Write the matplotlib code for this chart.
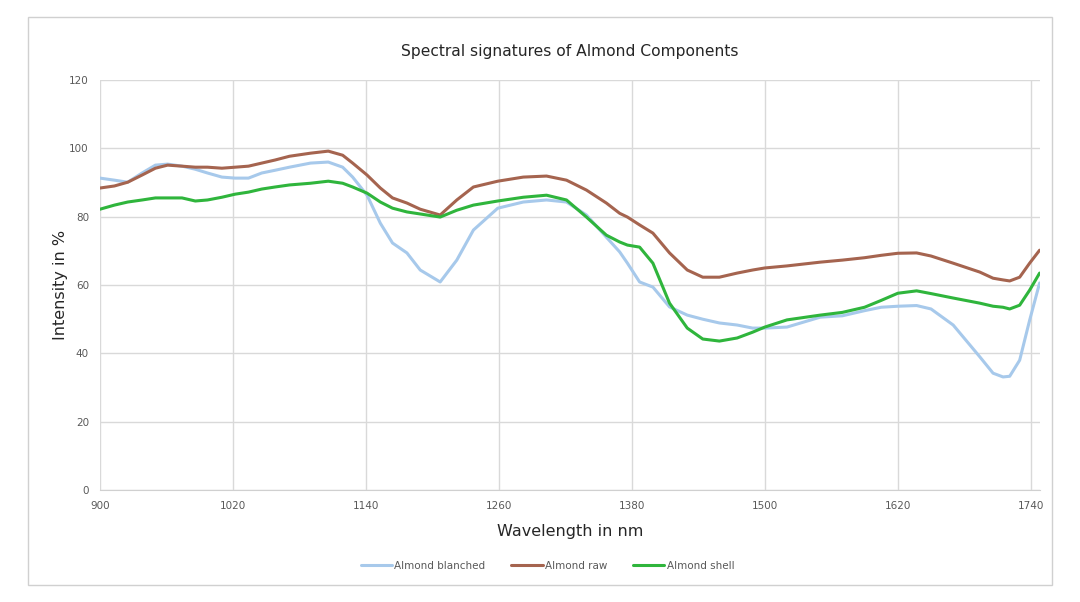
import matplotlib
matplotlib.use("Agg")
import matplotlib.pyplot as plt
from matplotlib.patches import Rectangle

# wavelengths (nm)
wavelength = [900, 913, 925, 938, 950, 961, 974, 986, 997, 1010, 1022, 1034, 1046, 1058,
              1071, 1090, 1106, 1119, 1128, 1141, 1153, 1164, 1177, 1189, 1207, 1222, 1237,
              1259, 1282, 1303, 1321, 1339, 1357, 1369, 1376, 1387, 1399, 1414, 1430, 1444,
              1459, 1475, 1489, 1500, 1520, 1550, 1570, 1590, 1605, 1620, 1637, 1650, 1670,
              1694, 1706, 1715, 1721, 1730, 1739, 1748]

blanched = [91.3, 90.7, 90.1, 92.8, 95.1, 95.4, 94.8, 93.9, 92.8, 91.6, 91.3, 91.3, 92.8, 93.6,
            94.5, 95.7, 96.0, 94.5, 91.6, 86.3, 78.1, 72.3, 69.4, 64.4, 60.9, 67.3, 76.1,
            82.5, 84.3, 84.9, 84.3, 80.5, 74.0, 69.7, 66.4, 60.9, 59.4, 53.6, 51.2, 50.0,
            48.9, 48.3, 47.4, 47.4, 47.7, 50.6, 51.0, 52.5, 53.5, 53.8, 54.0, 53.0, 48.3,
            39.0, 34.2, 33.1, 33.3, 38.0, 49.7, 60.6]

raw = [88.4, 89.0, 90.1, 92.2, 94.2, 95.1, 94.8, 94.5, 94.5, 94.2, 94.5, 94.8, 95.7, 96.6,
       97.7, 98.6, 99.2, 98.0, 95.7, 92.2, 88.4, 85.5, 84.0, 82.2, 80.5, 84.9, 88.7,
       90.4, 91.6, 91.9, 90.7, 87.8, 84.0, 81.0, 79.9, 77.6, 75.2, 69.4, 64.4, 62.3,
       62.3, 63.5, 64.4, 65.0, 65.6, 66.7, 67.3, 68.0, 68.7, 69.3, 69.4, 68.5, 66.4,
       63.8, 62.0, 61.5, 61.2, 62.3, 66.4, 70.2]

shell = [82.2, 83.4, 84.3, 84.9, 85.5, 85.5, 85.5, 84.6, 84.9, 85.7, 86.6, 87.2, 88.1, 88.7,
         89.3, 89.8, 90.4, 89.8, 88.7, 86.9, 84.3, 82.5, 81.4, 80.8, 79.9, 81.9, 83.4,
         84.6, 85.7, 86.3, 84.9, 79.9, 74.6, 72.6, 71.7, 71.1, 66.4, 54.7, 47.4, 44.2,
         43.6, 44.5, 46.2, 47.7, 49.8, 51.2, 52.0, 53.5, 55.5, 57.6, 58.3, 57.5, 56.2,
         54.7, 53.8, 53.5, 53.0, 54.1, 58.5, 63.5]

x_ticks = [900, 1020, 1140, 1260, 1380, 1500, 1620, 1740]
y_ticks = [0, 20, 40, 60, 80, 100, 120]

fig = plt.figure(figsize=(10.8, 6.02), dpi=100)
ax = fig.add_axes([0.0926, 0.186, 0.870, 0.681])

# outer chart border
fig.patches.append(Rectangle((0.026, 0.028), 0.948, 0.944, transform=fig.transFigure,
                             fill=False, edgecolor="#d0d0d0", linewidth=1))

line_kw = dict(linewidth=2.2, solid_joinstyle="round", solid_capstyle="round")
ax.plot(wavelength, blanched, color="#a7c9eb", label="Almond blanched", **line_kw)
ax.plot(wavelength, raw, color="#a5644f", label="Almond raw", **line_kw)
ax.plot(wavelength, shell, color="#2fb53c", label="Almond shell", **line_kw)

ax.set_xlim(900, 1748)
ax.set_ylim(0, 120)
ax.set_xticks(x_ticks)
ax.set_yticks(y_ticks)
ax.grid(True, color="#d9d9d9", linewidth=1)
ax.set_axisbelow(True)
for s in ["top", "right", "left"]:
    ax.spines[s].set_visible(False)
ax.spines["bottom"].set_color("#d0d0d0")
ax.tick_params(length=0, labelsize=7.5, labelcolor="#595959", pad=8)

ax.set_title("Spectral signatures of Almond Components", fontsize=11.2, color="#262626", pad=17)
ax.set_xlabel("Wavelength in nm", fontsize=11.5, color="#262626", labelpad=9)
ax.set_ylabel("Intensity in %", fontsize=11.5, color="#262626", labelpad=1)

fig.legend(loc="center", bbox_to_anchor=(0.507, 0.060), ncol=3, frameon=False,
           fontsize=7.5, handlelength=3, handletextpad=0.2, columnspacing=2.5,
           labelcolor="#595959")

fig.savefig("out.png", dpi=100)
